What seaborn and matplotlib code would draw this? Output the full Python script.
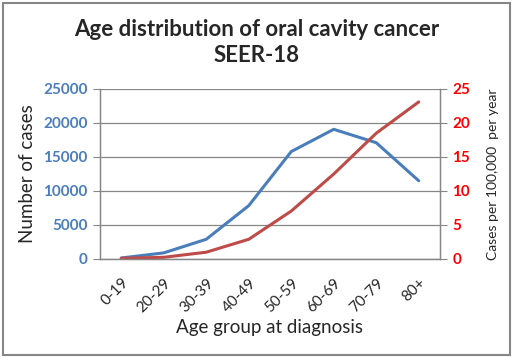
import numpy as np
import matplotlib
matplotlib.use('Agg')
import matplotlib.pyplot as plt
import pandas as pd
import seaborn as sns
from matplotlib.patches import Rectangle

age_groups = ['0-19', '20-29', '30-39', '40-49', '50-59', '60-69', '70-79', '80+']
num_cases = [150, 900, 2900, 7850, 15800, 19070, 17100, 11500]
rate_per_100k = [0.1, 0.25, 1.0, 2.9, 7.05, 12.5, 18.5, 23.1]

df = pd.DataFrame({'age': age_groups, 'x': np.arange(len(age_groups)),
                   'cases': num_cases, 'rate': rate_per_100k})

sns.set_style('white')
plt.rcParams['font.family'] = ['Lato', 'DejaVu Sans']

blue = '#4A7EBB'
red = '#BE4B48'
grid_gray = '#868686'

fig = plt.figure(figsize=(5.13, 3.57), dpi=100)
ax = fig.add_axes([100 / 513, 1 - 259 / 357, 340 / 513, 170 / 357])
ax2 = ax.twinx()

sns.lineplot(data=df, x='x', y='cases', ax=ax, color=blue, linewidth=2.2)
sns.lineplot(data=df, x='x', y='rate', ax=ax2, color=red, linewidth=2.2)

ax.set_xlim(-0.5, len(age_groups) - 0.5)
ax.set_ylim(0, 25000)
ax2.set_ylim(0, 25)
ax.set_yticks(np.arange(0, 25001, 5000))
ax2.set_yticks(np.arange(0, 26, 5))
ax.yaxis.grid(True, color=grid_gray, linewidth=0.9)
ax.set_axisbelow(True)

# category labels at centres, tick marks on the boundaries (Excel style)
ax.set_xticks(df['x'])
ax.set_xticklabels(age_groups, rotation=45, ha='right', rotation_mode='anchor',
                   fontsize=11)
ax.set_xticks(np.arange(-0.5, len(age_groups)), minor=True)
ax.tick_params(axis='x', which='major', length=0, pad=12)
ax.tick_params(axis='x', which='minor', length=5, color=grid_gray, direction='out')
ax.tick_params(axis='y', length=5, color=grid_gray, direction='out', labelsize=11,
               labelcolor=blue, pad=4)
ax2.tick_params(axis='y', length=5, color=grid_gray, direction='out', labelsize=11,
                labelcolor='red', pad=4)
for t in ax.get_yticklabels():
    t.set_fontweight('bold')
for t in ax2.get_yticklabels():
    t.set_fontweight('bold')

for a in (ax, ax2):
    a.spines['top'].set_visible(False)
    for s in ('left', 'right', 'bottom'):
        a.spines[s].set_color(grid_gray)
        a.spines[s].set_linewidth(0.9)

ax.set_xlabel('Age group at diagnosis', fontsize=13.5, labelpad=3)
ax.set_ylabel('Number of cases', fontsize=13.5, labelpad=5)
ax2.set_ylabel('Cases per 100,000  per year', fontsize=10, labelpad=12)

fig.text(0.5, 1 - 30 / 357, 'Age distribution of oral cavity cancer', ha='center',
         va='center', fontsize=16, fontweight='bold')
fig.text(0.5, 1 - 55 / 357, 'SEER-18', ha='center', va='center', fontsize=16,
         fontweight='bold')

fig.patches.append(Rectangle((3 / 513, 2 / 357), 507 / 513, 352 / 357, fill=False,
                             edgecolor='#868686', linewidth=1.5,
                             transform=fig.transFigure, figure=fig))

fig.savefig('out.png', dpi=100)
